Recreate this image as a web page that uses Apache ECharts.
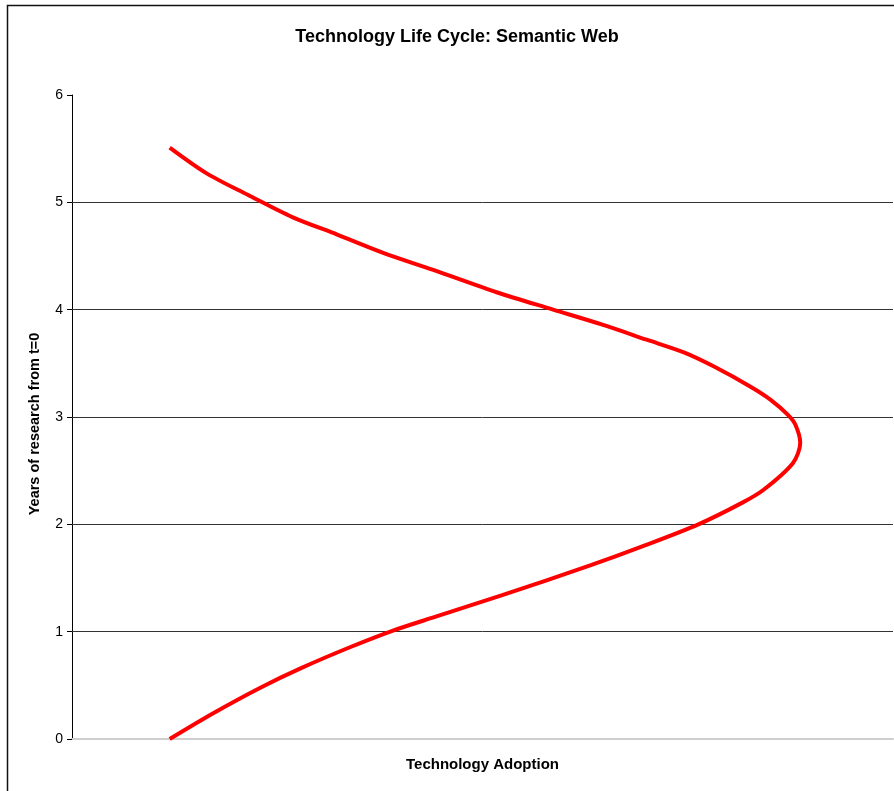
<!DOCTYPE html>
<html>
<head>
<meta charset="utf-8">
<title>Technology Life Cycle: Semantic Web</title>
<script src="https://cdn.jsdelivr.net/npm/echarts@6/dist/echarts.min.js"></script>
<style>
  html, body { margin: 0; padding: 0; background: #fff; }
  #chart { width: 894px; height: 791px; }
</style>
</head>
<body>
<div id="chart"></div>
<script>
// Years since research began (vertical axis)
const years = [0.00, 0.24, 0.48, 0.66, 0.85, 1.01, 1.14, 1.34, 1.62, 1.79, 2.00, 2.20, 2.32, 2.57, 2.76,
               2.93, 3.02, 3.16, 3.28, 3.47, 3.60, 3.72, 3.86, 4.00, 4.16, 4.37, 4.53, 4.70, 4.86, 5.07, 5.27, 5.51];
// Relative technology adoption at each point in time (horizontal axis, 0-100)
const adoption = [11.9, 17.2, 23.0, 27.9, 33.7, 39.1, 44.3, 52.4, 63.2, 69.3, 76.3, 81.6, 84.2, 87.8, 88.7,
                  88.1, 87.2, 85.1, 82.7, 78.2, 74.6, 70.0, 64.6, 58.6, 51.8, 44.0, 37.9, 32.3, 26.9, 21.4, 16.4, 11.9];
// Horizontal reference lines across the plot
const gridYears = [1, 2, 3, 4, 5];

const curve = years.map((y, i) => [adoption[i], y]);

const FONT = 'Liberation Sans, Arial, sans-serif';
const chart = echarts.init(document.getElementById('chart'), null, { renderer: 'canvas' });
chart.setOption({
  animation: false,
  backgroundColor: '#ffffff',
  textStyle: { fontFamily: FONT },
  title: {
    text: 'Technology Life Cycle: Semantic Web',
    left: 452,
    top: 23,
    textAlign: 'center',
    textStyle: { fontSize: 18, fontWeight: 'bold', color: '#000', fontFamily: FONT }
  },
  graphic: [{
    type: 'rect',
    shape: { x: 7.5, y: 5.5, width: 920, height: 820 },
    style: { fill: 'none', stroke: '#111', lineWidth: 1.5 },
    silent: true
  }, {
    // vertical axis title, rotated to read bottom-to-top
    type: 'text',
    x: 35,
    y: 424,
    rotation: Math.PI / 2,
    silent: true,
    style: {
      text: 'Years of research from t=0',
      font: 'bold 14.5px ' + FONT,
      fill: '#000',
      align: 'center',
      verticalAlign: 'middle'
    }
  }],
  grid: { left: 72, top: 95, right: 1, bottom: 52, containLabel: false },
  xAxis: {
    type: 'value',
    min: 0,
    max: 100,
    name: 'Technology Adoption',
    nameLocation: 'middle',
    nameGap: 18,
    nameTextStyle: { fontSize: 15, fontWeight: 'bold', color: '#000', verticalAlign: 'top', fontFamily: FONT },
    axisLine: { show: true, lineStyle: { color: '#cfcfcf', width: 2 } },
    axisTick: { show: false },
    axisLabel: { show: false },
    splitLine: { show: false }
  },
  yAxis: {
    type: 'value',
    min: 0,
    max: 6,
    interval: 1,
    axisLine: { show: true, lineStyle: { color: '#000', width: 1 } },
    axisTick: { show: true, inside: false, length: 5, lineStyle: { color: '#000' } },
    axisLabel: { fontSize: 14, color: '#000', margin: 9, fontFamily: FONT },
    splitLine: { show: false }
  },
  series: [{
    type: 'line',
    data: curve,
    smooth: 0.3,
    showSymbol: false,
    symbol: 'none',
    lineStyle: { color: '#ff0000', width: 4 },
    z: 3,
    markLine: {
      silent: true,
      symbol: 'none',
      label: { show: false },
      lineStyle: { color: '#333', width: 1, type: 'solid' },
      data: gridYears.map(v => ({ yAxis: v })),
      z: 1
    }
  }]
});
</script>
</body>
</html>
